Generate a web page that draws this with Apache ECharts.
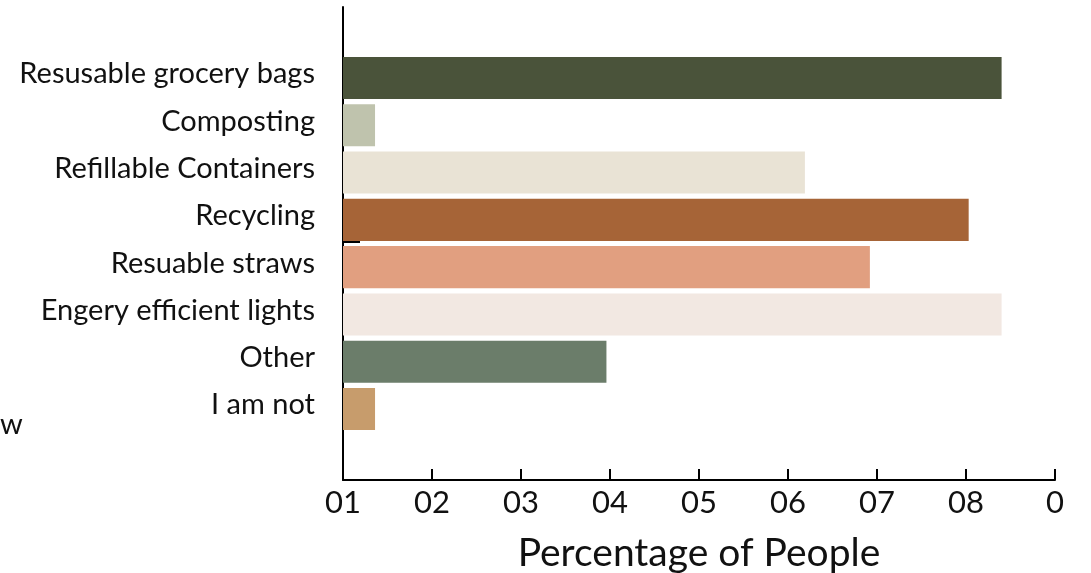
<!DOCTYPE html>
<html>
<head>
<meta charset="utf-8">
<script src="https://cdn.jsdelivr.net/npm/echarts@6/dist/echarts.min.js"></script>
<style>
  html, body { margin: 0; padding: 0; background: #fff; }
  #main { width: 1091px; height: 573px; }
</style>
</head>
<body>
<div id="main"></div>
<script>
// empty slots at top and bottom keep the spacing of the original
var categories = ['', 'Resusable grocery bags', 'Composting', 'Refillable Containers', 'Recycling',
  'Resuable straws', 'Engery efficient lights', 'Other', 'I am not', ''];
var values = [null, 74.0, 3.6, 51.9, 70.3, 59.2, 74.0, 29.6, 3.6, null];
var barColors = [null, '#4a533a', '#bfc3ad', '#e9e3d5', '#a66437', '#e19f80', '#f2e8e2', '#6b7d6a', '#c79c6c', null];
var tickLabels = ['01', '02', '03', '04', '05', '06', '07', '08', '0'];

var font = 'Lato';

var chartDom = document.getElementById('main');
var myChart = echarts.init(chartDom);
var option;

option = {
  animation: false,
  grid: { left: 343, right: 36, top: 7, bottom: 93, outerBoundsMode: 'none', containLabel: false },
  xAxis: {
    type: 'value',
    min: 0,
    max: 80,
    interval: 10,
    name: 'Percentage of People',
    nameLocation: 'middle',
    nameGap: 54,
    nameTextStyle: { fontFamily: font, fontSize: 39, color: '#111' },
    axisLine: { show: true, lineStyle: { color: '#000', width: 2 } },
    axisTick: { show: true, inside: true, length: 11, lineStyle: { color: '#000', width: 2 } },
    axisLabel: {
      margin: 7,
      fontFamily: font,
      fontSize: 31,
      color: '#111',
      formatter: function (v) { return tickLabels[Math.round(v / 10)]; }
    },
    splitLine: { show: false }
  },
  yAxis: {
    type: 'category',
    inverse: true,
    data: categories,
    axisLine: { show: true, lineStyle: { color: '#000', width: 2 } },
    axisTick: { show: false },
    axisLabel: {
      margin: 28, fontFamily: font, fontSize: 29, color: '#111',
      verticalAlign: 'bottom', lineHeight: 8
    }
  },
  series: [
    {
      type: 'bar',
      barCategoryGap: '11%',
      data: values.map(function (v, i) {
        return { value: v, itemStyle: { color: barColors[i] } };
      })
    }
  ],
  graphic: [
    { type: 'text', left: 0, top: 410, style: { text: 'w', fontFamily: font, fontSize: 29, fill: '#111' } },
    { type: 'line', shape: { x1: 343, y1: 242, x2: 360, y2: 242 }, style: { stroke: '#000', lineWidth: 2 } }
  ]
};

if (chartDom && myChart) {
  myChart.setOption(option);
} else {
  console.error('Failed to initialize the chart');
}
</script>
</body>
</html>
